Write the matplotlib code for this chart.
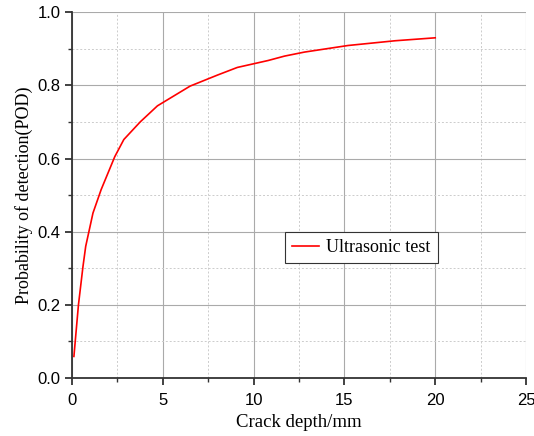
import matplotlib
matplotlib.use("Agg")
import matplotlib.pyplot as plt
from matplotlib.ticker import MultipleLocator, FormatStrFormatter

crack_depth = [0.1, 0.35, 0.6, 0.75, 1.15, 1.6, 2.35, 2.85, 3.75, 4.7, 6.5, 7.1,
               8.0, 9.1, 10.8, 11.7, 12.8, 15.2, 17.8, 20]
pod = [0.059, 0.20, 0.305, 0.36, 0.451, 0.515, 0.605, 0.652, 0.70, 0.744, 0.798, 0.81,
       0.828, 0.849, 0.868, 0.88, 0.891, 0.909, 0.922, 0.93]

SERIF = ["Liberation Serif", "DejaVu Serif"]
SANS = ["Liberation Sans", "DejaVu Sans"]


def main():
    fig = plt.figure(figsize=(5.34, 4.36), dpi=100)
    ax = fig.add_axes([0.135, 0.133, 0.85, 0.839])

    ax.plot(crack_depth, pod, color="#ff0000", lw=1.2, label="Ultrasonic test")

    ax.set_xlim(0, 25)
    ax.set_ylim(0, 1.0)
    ax.xaxis.set_major_locator(MultipleLocator(5))
    ax.xaxis.set_minor_locator(MultipleLocator(2.5))
    ax.yaxis.set_major_locator(MultipleLocator(0.2))
    ax.yaxis.set_minor_locator(MultipleLocator(0.1))
    ax.yaxis.set_major_formatter(FormatStrFormatter("%.1f"))

    ax.grid(which="major", color="#aaaaaa", lw=0.8, ls="-")
    ax.grid(which="minor", color="#cccccc", lw=0.7, ls=(0, (2, 2)))
    ax.set_axisbelow(True)

    for s in ("top", "right"):
        ax.spines[s].set_visible(False)
    for s in ("left", "bottom"):
        ax.spines[s].set_linewidth(1.3)
        ax.spines[s].set_color("#333333")

    ax.tick_params(which="major", direction="out", length=5, width=1.3, color="#333333",
                   labelsize=12)
    ax.tick_params(axis="x", which="major", pad=6)
    ax.tick_params(which="minor", direction="out", length=3, width=1.0, color="#333333")
    for lab in ax.get_xticklabels() + ax.get_yticklabels():
        lab.set_family(SANS)

    ax.set_xlabel("Crack depth/mm", fontsize=13.5, family=SERIF, labelpad=4)
    ax.set_ylabel("Probability of detection(POD)", fontsize=13, family=SERIF, labelpad=3)

    leg = ax.legend(loc="lower left", bbox_to_anchor=(0.469, 0.314), borderaxespad=0,
                    fancybox=False, framealpha=1, edgecolor="#333333", handlelength=1.5,
                    handletextpad=0.4, prop={"family": SERIF, "size": 13})
    leg.get_frame().set_linewidth(0.8)

    fig.savefig("out.png", dpi=100)
    plt.close(fig)


if __name__ == "__main__":
    main()
